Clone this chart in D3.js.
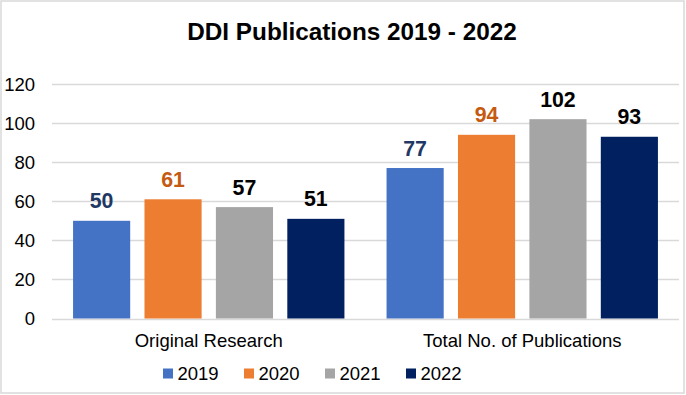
<!DOCTYPE html>
<html>
<head>
<meta charset="utf-8">
<script src="https://cdn.jsdelivr.net/npm/d3@7"></script>
<style>
  html, body { margin: 0; padding: 0; background: #fff; }
  svg { display: block; font-family: "Liberation Sans", Arial, sans-serif; }
</style>
</head>
<body>
<svg id="chart" width="686" height="395"></svg>
<script>
const categories = ["Original Research", "Total No. of Publications"];
const seriesNames = ["2019", "2020", "2021", "2022"];
const values2019 = [50, 77];
const values2020 = [61, 94];
const values2021 = [57, 102];
const values2022 = [51, 93];
const yTicks = [0, 20, 40, 60, 80, 100, 120];
const barColors = ["#4472C4", "#ED7D31", "#A5A5A5", "#002060"];
const labelColors = ["#1F3864", "#C55A11", "#000000", "#000000"];
const title = "DDI Publications 2019 - 2022";

const allValues = [values2019, values2020, values2021, values2022];
const data = categories.map((c, ci) => ({
  category: c,
  values: seriesNames.map((s, si) => ({ series: s, si, value: allValues[si][ci] }))
}));

const svg = d3.select("#chart");
const W = 686, H = 395;

// outer border
svg.append("rect")
  .attr("x", 1).attr("y", 1).attr("width", W - 3).attr("height", H - 3)
  .attr("fill", "#fff").attr("stroke", "#D9D9D9").attr("stroke-width", 1.5);

const plot = { left: 52, right: 679, top: 84, bottom: 318.5 };

const x0 = d3.scaleBand().domain(categories).range([plot.left, plot.right]).padding(0);
const x1 = d3.scaleBand().domain(seriesNames).range([0, x0.bandwidth()])
  .paddingInner(0.2).paddingOuter(0.295);
const y = d3.scaleLinear().domain([0, 120]).range([plot.bottom, plot.top]);

// gridlines
svg.append("g").selectAll("line").data(yTicks).join("line")
  .attr("x1", plot.left).attr("x2", plot.right)
  .attr("y1", d => Math.round(y(d)) + 0.5).attr("y2", d => Math.round(y(d)) + 0.5)
  .attr("stroke", "#D9D9D9").attr("stroke-width", 1.3);

// y axis labels
const yAxis = d3.axisLeft(y).tickValues(yTicks).tickSize(0).tickPadding(0);
const yg = svg.append("g").attr("transform", `translate(35,0)`).call(yAxis);
yg.select(".domain").remove();
yg.selectAll("text")
  .attr("font-family", "'Liberation Sans', Arial, sans-serif")
  .attr("font-size", "18.5px").attr("fill", "#000")
  .attr("dy", "0.35em");

// bars
const groups = svg.append("g").selectAll("g").data(data).join("g")
  .attr("transform", d => `translate(${x0(d.category)},0)`);

groups.selectAll("rect").data(d => d.values).join("rect")
  .attr("x", d => x1(d.series))
  .attr("width", x1.bandwidth())
  .attr("y", d => y(d.value))
  .attr("height", d => y(0) - y(d.value))
  .attr("fill", d => barColors[d.si]);

groups.selectAll("text").data(d => d.values).join("text")
  .attr("x", d => x1(d.series) + x1.bandwidth() / 2)
  .attr("y", d => y(d.value) - 12.5)
  .attr("text-anchor", "middle")
  .attr("font-size", "21.3px").attr("font-weight", "bold")
  .attr("fill", d => labelColors[d.si])
  .text(d => d.value);

// category axis labels
const xAxis = d3.axisBottom(x0).tickSize(0).tickPadding(0);
const xg = svg.append("g").attr("transform", `translate(0,346.5)`).call(xAxis);
xg.select(".domain").remove();
xg.selectAll("text")
  .attr("font-family", "'Liberation Sans', Arial, sans-serif")
  .attr("font-size", "18.5px").attr("fill", "#000")
  .attr("dy", 0);

// title
svg.append("text")
  .attr("x", 352).attr("y", 40)
  .attr("text-anchor", "middle")
  .attr("font-size", "24.3px").attr("font-weight", "bold")
  .attr("fill", "#000")
  .text(title);

// legend
const legend = svg.append("g").attr("transform", "translate(163,368.5)");
const items = legend.selectAll("g").data(seriesNames).join("g")
  .attr("transform", (d, i) => `translate(${i * 81},0)`);
items.append("rect").attr("width", 10).attr("height", 10)
  .attr("fill", (d, i) => barColors[i]);
items.append("text").attr("x", 14.5).attr("y", 11)
  .attr("font-size", "18.5px").attr("fill", "#000")
  .text(d => d);
</script>
</body>
</html>
